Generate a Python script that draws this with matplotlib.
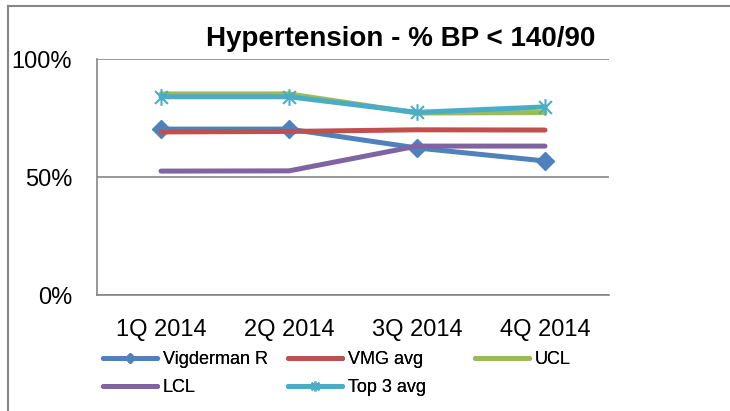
import matplotlib

matplotlib.use("Agg")
import matplotlib.pyplot as plt
from matplotlib.path import Path
from matplotlib.ticker import PercentFormatter

quarters = ["1Q 2014", "2Q 2014", "3Q 2014", "4Q 2014"]
vigderman = [0.703, 0.703, 0.623, 0.568]
vmg_avg = [0.691, 0.693, 0.700, 0.699]
ucl = [0.852, 0.852, 0.771, 0.773]
lcl = [0.525, 0.526, 0.631, 0.631]
top3_avg = [0.840, 0.840, 0.774, 0.797]

COLORS = {
    "blue": "#4F81BD",
    "red": "#C0504D",
    "green": "#9BBB59",
    "purple": "#8064A2",
    "cyan": "#4BACC6",
    "axis": "#868686",
}

FONT = "Liberation Sans"

# Excel-style star marker: an x with a vertical bar through it
STAR = Path(
    [(-1, -1), (1, 1), (-1, 1), (1, -1), (0, -1.3), (0, 1.3)],
    [Path.MOVETO, Path.LINETO, Path.MOVETO, Path.LINETO, Path.MOVETO, Path.LINETO],
)


def px(x, y):
    """pixel position (from top-left) -> figure fraction"""
    return x / 730, 1 - y / 411


def main() -> None:
    plt.rcParams["font.family"] = FONT
    fig = plt.figure(figsize=(7.3, 4.11), dpi=100)
    ax = fig.add_axes([97 / 730, 1 - 295 / 411, 512 / 730, 236 / 411])

    x = list(range(len(quarters)))
    lw = 3.6
    h_vig, = ax.plot(x, vigderman, color=COLORS["blue"], lw=lw, marker="D", ms=9,
                     solid_capstyle="round", label="Vigderman R", zorder=3)
    h_vmg, = ax.plot(x, vmg_avg, color=COLORS["red"], lw=lw, solid_capstyle="round",
                     label="VMG avg", zorder=4)
    h_ucl, = ax.plot(x, ucl, color=COLORS["green"], lw=lw, solid_capstyle="round",
                     label="UCL", zorder=5)
    h_lcl, = ax.plot(x, lcl, color=COLORS["purple"], lw=lw, solid_capstyle="round",
                     label="LCL", zorder=6)
    h_top, = ax.plot(x, top3_avg, color=COLORS["cyan"], lw=lw, marker=STAR, ms=12, mew=1.5,
                     solid_capstyle="round", label="Top 3 avg", zorder=7)

    ax.set_xlim(-0.5, 3.5)
    ax.set_ylim(0, 1)
    ax.set_yticks([0, 0.5, 1.0])
    ax.yaxis.set_major_formatter(PercentFormatter(1.0, decimals=0))
    ax.set_xticks(x)
    ax.set_xticklabels(quarters)
    ax.tick_params(axis="both", length=0, labelsize=17, colors="black")
    ax.tick_params(axis="y", pad=18)
    ax.tick_params(axis="x", pad=17)
    ax.grid(axis="y", color=COLORS["axis"], lw=1.2)
    ax.set_axisbelow(True)
    for side in ("top", "right"):
        ax.spines[side].set_visible(False)
    for side in ("left", "bottom"):
        ax.spines[side].set_color(COLORS["axis"])
        ax.spines[side].set_linewidth(1.2)

    fig.text(*px(401, 46), "Hypertension - % BP < 140/90",
             ha="center", va="baseline", fontsize=20, fontweight="bold")

    # legend laid out as fixed columns, like the spreadsheet's
    columns = [
        (103, [h_vig, h_lcl]),
        (288, [h_vmg, h_top]),
        (475, [h_ucl]),
    ]
    for xcol, hs in columns:
        leg = fig.legend(hs, [h.get_label() for h in hs], loc="upper left",
                         bbox_to_anchor=px(xcol, 351), frameon=False, fontsize=13,
                         handlelength=3.0, handletextpad=0.3, labelspacing=0.62,
                         markerscale=0.6, borderaxespad=0, borderpad=0)
        fig.add_artist(leg)

    # chart area border (left and top edges visible)
    fig.add_artist(plt.Line2D([8 / 730, 8 / 730], [0, 1 - 6 / 411],
                              transform=fig.transFigure, color=COLORS["axis"], lw=1.5))
    fig.add_artist(plt.Line2D([8 / 730, 1], [1 - 6 / 411, 1 - 6 / 411],
                              transform=fig.transFigure, color=COLORS["axis"], lw=1.5))

    fig.savefig("out.png", dpi=100)
    plt.close(fig)


if __name__ == "__main__":
    main()
